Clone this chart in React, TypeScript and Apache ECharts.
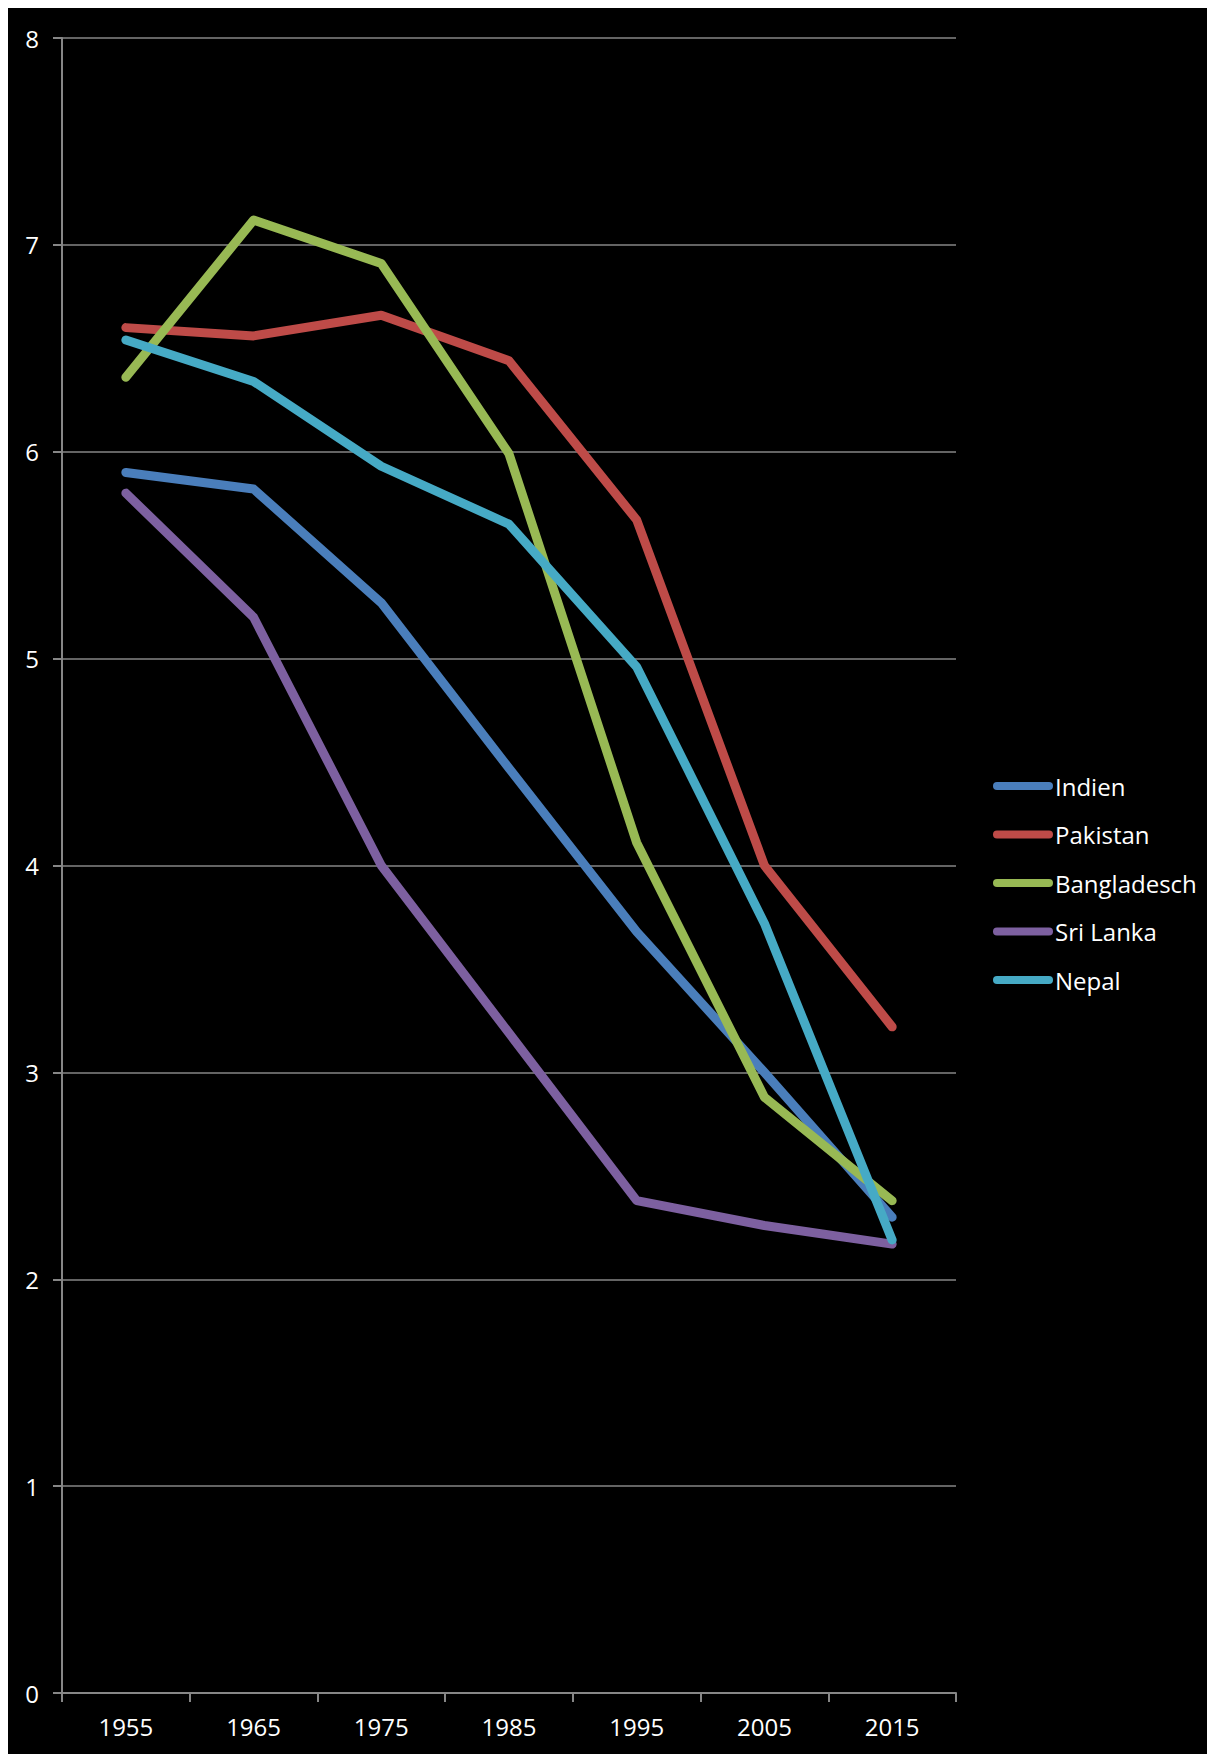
import React, { useEffect, useRef } from "react";
import * as echarts from "echarts";

const years = ["1955", "1965", "1975", "1985", "1995", "2005", "2015"];
const seriesNames = ["Indien", "Pakistan", "Bangladesch", "Sri Lanka", "Nepal"];
const indien = [5.9, 5.82, 5.27, 4.47, 3.68, 3.0, 2.3];
const pakistan = [6.6, 6.56, 6.66, 6.44, 5.67, 4.0, 3.22];
const bangladesch = [6.36, 7.12, 6.91, 5.99, 4.11, 2.88, 2.38];
const sriLanka = [5.8, 5.2, 4.0, 3.19, 2.38, 2.26, 2.17];
const nepal = [6.54, 6.34, 5.93, 5.65, 4.96, 3.72, 2.19];
const colors = ["#4A7EBB", "#BE4B48", "#98B954", "#7D60A0", "#46AAC5"];
const yTicks = { min: 0, max: 8, interval: 1 };

const FONT = "'Open Sans', sans-serif";

export default function App() {
  const ref = useRef<HTMLDivElement>(null);
  useEffect(() => {
    document.documentElement.style.overflow = "hidden";
    const chart = echarts.init(ref.current!, null, { renderer: "svg" });
    const data = [indien, pakistan, bangladesch, sriLanka, nepal];
    chart.setOption({
      animation: false,
      backgroundColor: "#000000",
      color: colors,
      textStyle: { fontFamily: FONT, color: "#ffffff" },
      grid: { left: 54, top: 30, right: 259, bottom: 61, containLabel: false },
      legend: {
        orient: "vertical",
        left: 980,
        top: 761,
        itemWidth: 60,
        itemHeight: 8,
        itemGap: 24.5,
        icon: "path://M4,0H56A4,4,0,0,1,56,8H4A4,4,0,0,1,4,0Z",
        textStyle: { color: "#ffffff", fontSize: 24, fontFamily: FONT, lineHeight: 24, padding: [0, 0, 0, -3] },
        data: seriesNames,
      },
      xAxis: {
        type: "category",
        data: years,
        boundaryGap: true,
        axisLine: { show: true, lineStyle: { color: "#868686", width: 2 } },
        axisTick: { show: true, length: 9, inside: false, lineStyle: { color: "#868686", width: 2 } },
        axisLabel: { color: "#ffffff", fontSize: 24, fontFamily: FONT, margin: 21 },
        splitLine: { show: false },
      },
      yAxis: {
        type: "value",
        min: yTicks.min,
        max: yTicks.max,
        interval: yTicks.interval,
        axisLine: { show: true, lineStyle: { color: "#868686", width: 2 } },
        axisTick: { show: true, length: 9, inside: false, lineStyle: { color: "#868686", width: 2 } },
        axisLabel: { color: "#ffffff", fontSize: 24, fontFamily: FONT, margin: 23 },
        splitLine: { show: true, lineStyle: { color: "#868686", width: 1.5 } },
      },
      series: seriesNames.map((name, i) => ({
        name,
        type: "line",
        data: data[i],
        showSymbol: false,
        symbol: "none",
        lineStyle: { width: 9, color: colors[i], cap: "round", join: "round" },
        itemStyle: { color: colors[i] },
      })),
    });
    return () => chart.dispose();
  }, []);
  return <div ref={ref} style={{ width: 1207, height: 1746 }} />;
}
